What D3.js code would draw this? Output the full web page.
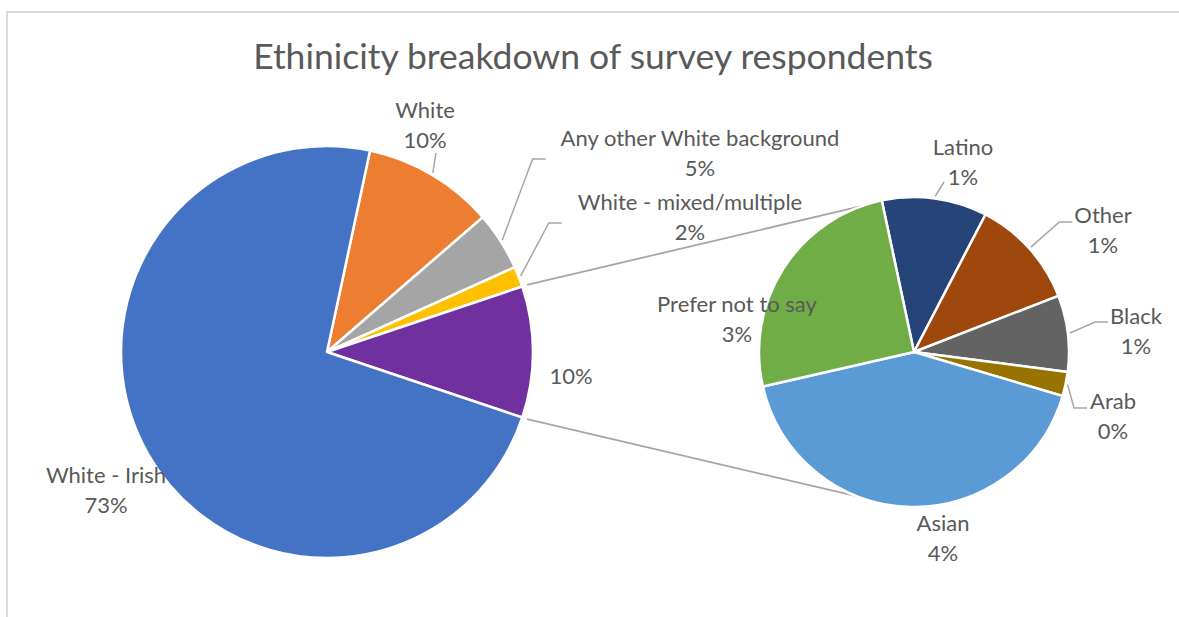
<!DOCTYPE html>
<html>
<head>
<meta charset="utf-8">
<script src="https://cdn.jsdelivr.net/npm/d3@7"></script>
<style>
  html, body { margin: 0; padding: 0; background: #ffffff; }
  svg { display: block; }
  text { font-family: Lato, "Open Sans", "DejaVu Sans", sans-serif; }
</style>
</head>
<body>
<svg id="chart" width="1179" height="617"></svg>
<script>
// Shares of all respondents (%), main pie
const mainCategories = ["White", "Any other White background", "White - mixed/multiple", "White - Irish"];
const mainValues = [10.3, 4.6, 1.6, 73.2];

// Smaller groups, broken out into the secondary pie (% of all respondents)
const otherCategories = ["Latino", "Other", "Black", "Arab", "Asian", "Prefer not to say"];
const otherValues = [1.13, 1.18, 0.82, 0.26, 4.31, 2.6];

const titleText = "Ethinicity breakdown of survey respondents";

// Colours
const mainColors = ["#ED7D31", "#A5A5A5", "#FFC000", "#4472C4"];
const groupColor = "#7030A0";
const otherColors = ["#264478", "#9E480E", "#636363", "#997300", "#5B9BD5", "#70AD47"];
const textColor = "#595959";
const lineColor = "#A6A6A6";

// Geometry
const W = 1179, H = 617;
const main = { cx: 327, cy: 352, r: 206 };
const second = { cx: 914, cy: 352, r: 155 };
const secondStartDeg = -12;
const connectorDeg = [-19.5, 201];

// Label placement (centre of the two-line block) and leader hooks
const GROUP_KEY = "__group";
const labelLayout = {
  "White": { x: 425, y: 125, leader: "bottom", hookDy: 28 },
  "Any other White background": { x: 700, y: 153, leader: "left", gap: 15, hookDy: 6 },
  "White - mixed/multiple": { x: 690, y: 217, leader: "left", gap: 16, hookDy: 6 },
  [GROUP_KEY]: { x: 571, y: 376 },
  "White - Irish": { x: 106, y: 490 },
  "Latino": { x: 963, y: 162, leader: "corner", hookDx: -19, hookDy: 20 },
  "Other": { x: 1103, y: 229.5, leader: "left", gap: 2, hookDy: -7.5 },
  "Black": { x: 1136, y: 331, leader: "left", gap: 2, hookDy: -9 },
  "Arab": { x: 1113, y: 416, leader: "left", gap: 3, hookDy: -8 },
  "Asian": { x: 943, y: 538 },
  "Prefer not to say": { x: 737, y: 319 }
};

const fmtPct = d3.format(".0%");
const rad = d => d * Math.PI / 180;

const svg = d3.select("#chart");

// Chart area frame
svg.append("path")
  .attr("d", `M7,${H} L7,12 L${W},12`)
  .attr("fill", "none")
  .attr("stroke", "#D9D9D9")
  .attr("stroke-width", 2);

// Title
svg.append("text")
  .attr("x", 593)
  .attr("y", 69)
  .attr("text-anchor", "middle")
  .attr("fill", textColor)
  .style("font-weight", 400)
  .style("font-size", "35.5px")
  .text(titleText);

// ---- Data tables ----
const groupTotal = d3.sum(otherValues);
const mainData = mainCategories.map((c, i) => ({ name: c, value: mainValues[i], color: mainColors[i] }));
// the combined slice sits between the mixed group and White - Irish
mainData.splice(3, 0, { name: GROUP_KEY, value: groupTotal, color: groupColor });
const otherData = otherCategories.map((c, i) => ({ name: c, value: otherValues[i], color: otherColors[i] }));

const total = d3.sum(mainData, d => d.value);

// Rotate the main pie so the combined slice faces the secondary pie (centred at 3 o'clock)
const beforeGroup = d3.sum(mainData.slice(0, 3), d => d.value);
const mainStart = Math.PI / 2 - ((beforeGroup + groupTotal / 2) / total) * 2 * Math.PI;

const mainPie = d3.pie().sort(null).value(d => d.value)
  .startAngle(mainStart).endAngle(mainStart + 2 * Math.PI);
const otherPie = d3.pie().sort(null).value(d => d.value)
  .startAngle(rad(secondStartDeg)).endAngle(rad(secondStartDeg) + 2 * Math.PI);

const mainArcs = mainPie(mainData);
const otherArcs = otherPie(otherData);

const mainArc = d3.arc().innerRadius(0).outerRadius(main.r);
const otherArc = d3.arc().innerRadius(0).outerRadius(second.r);

function polar(c, r, a) {
  return [c.cx + r * Math.sin(a), c.cy - r * Math.cos(a)];
}

// ---- Connector lines between the pies ----
const groupArc = mainArcs.find(d => d.data.name === GROUP_KEY);
const conn = [
  [polar(main, main.r + 5, groupArc.startAngle), polar(second, second.r, rad(connectorDeg[0]))],
  [polar(main, main.r + 5, groupArc.endAngle), polar(second, second.r, rad(connectorDeg[1]))]
];
svg.append("g").selectAll("line").data(conn).join("line")
  .attr("x1", d => d[0][0]).attr("y1", d => d[0][1])
  .attr("x2", d => d[1][0]).attr("y2", d => d[1][1])
  .attr("stroke", lineColor)
  .attr("stroke-width", 1.8);

// ---- Slices ----
svg.append("g")
  .attr("transform", `translate(${main.cx},${main.cy})`)
  .selectAll("path").data(mainArcs).join("path")
  .attr("d", mainArc)
  .attr("fill", d => d.data.color)
  .attr("stroke", "#ffffff")
  .attr("stroke-width", 2.5)
  .attr("stroke-linejoin", "round");

svg.append("g")
  .attr("transform", `translate(${second.cx},${second.cy})`)
  .selectAll("path").data(otherArcs).join("path")
  .attr("d", otherArc)
  .attr("fill", d => d.data.color)
  .attr("stroke", "#ffffff")
  .attr("stroke-width", 2.5)
  .attr("stroke-linejoin", "round");

// ---- Labels and leaders ----
const leaderG = svg.append("g");
const labelG = svg.append("g");

function drawLabel(arcDatum, center) {
  const name = arcDatum.data.name;
  const lay = labelLayout[name];
  const lines = name === GROUP_KEY
    ? [fmtPct(arcDatum.data.value / total)]
    : [name, fmtPct(arcDatum.data.value / total)];

  const t = labelG.append("text")
    .attr("text-anchor", "middle")
    .attr("fill", textColor)
    .style("font-size", "22px");
  const lineH = 30;
  const top = lay.y - (lines.length - 1) * lineH / 2;
  lines.forEach((s, i) => {
    t.append("tspan")
      .attr("x", lay.x)
      .attr("y", top + i * lineH + 8)
      .text(s);
  });

  if (!lay.leader) return;
  const mid = (arcDatum.startAngle + arcDatum.endAngle) / 2;
  const start = polar(center, center.r + 2, mid);
  let pts;
  if (lay.leader === "left") {
    const bb = t.node().getBBox();
    const end = [bb.x - lay.gap, lay.y + lay.hookDy];
    pts = [start, [end[0] - 13, end[1]], end];
  } else if (lay.leader === "bottom") {
    pts = [start, [start[0] + 3, lay.y + lay.hookDy]];
  } else {
    pts = [start, [lay.x + lay.hookDx, lay.y + lay.hookDy]];
  }
  leaderG.append("path")
    .attr("d", d3.line()(pts))
    .attr("fill", "none")
    .attr("stroke", lineColor)
    .attr("stroke-width", 1.5);
}

mainArcs.forEach(d => drawLabel(d, main));
otherArcs.forEach(d => drawLabel(d, second));
</script>
</body>
</html>
